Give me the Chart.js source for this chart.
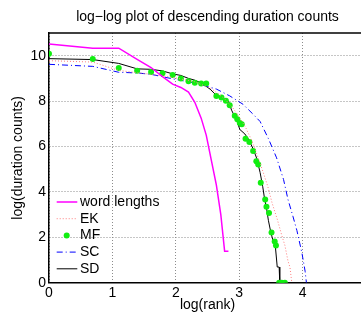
<!DOCTYPE html>
<html>
<head>
<meta charset="utf-8">
<script src="https://cdn.jsdelivr.net/npm/chart.js@4.4.1/dist/chart.umd.min.js"></script>
<style>
  html, body { margin: 0; padding: 0; overflow: hidden; background: #fff; }
  #wrap { width: 361px; height: 314px; overflow: hidden; }
  canvas { display: block; }
</style>
</head>
<body>
<div id="wrap"><canvas id="chart" width="370" height="314"></canvas></div>
<script>
// values (natural log of rank / count)
const titleText = 'log\u2212log plot of descending duration counts';
const xTicks = [0, 1, 2, 3, 4, 5];
const yTicks = [0, 2, 4, 6, 8, 10];

const seriesNames = ['word lengths', 'EK', 'MF', 'SC', 'SD'];

const wordX = [0, 0.69, 1.10, 1.39, 1.61, 1.79, 1.95, 2.08, 2.20, 2.30, 2.40, 2.48, 2.56, 2.64, 2.71, 2.77, 2.83];
const wordY = [10.52, 10.33, 10.33, 9.84, 9.48, 9.08, 8.75, 8.6, 8.4, 7.95, 7.25, 6.5, 5.4, 4.3, 3.0, 1.39, 1.39];

const ekX = [0, 0.69, 1.10, 1.39, 1.61, 1.95, 2.30, 2.56, 2.77, 2.90, 3.00, 3.10, 3.20, 3.30, 3.38, 3.45, 3.52, 3.60, 3.67, 3.72, 3.77, 3.80, 3.83];
const ekY = [9.78, 9.72, 9.35, 9.25, 9.18, 9.05, 8.85, 8.55, 8.1, 7.7, 7.3, 6.85, 6.25, 5.5, 4.85, 4.25, 3.5, 2.8, 2.1, 1.65, 0.95, 0.69, 0];

const mfX = [0, 0.69, 1.10, 1.39, 1.61, 1.79, 1.95, 2.08, 2.20, 2.30, 2.40, 2.48, 2.64, 2.72, 2.79, 2.85, 2.93, 2.97, 3.01, 3.04, 3.10, 3.16, 3.22, 3.27, 3.30, 3.34, 3.41, 3.43, 3.47, 3.51, 3.56, 3.58, 3.63, 3.67, 3.72];
const mfY = [10.09, 9.85, 9.46, 9.34, 9.28, 9.23, 9.15, 9.0, 8.87, 8.81, 8.78, 8.78, 8.23, 8.16, 8.01, 7.82, 7.35, 7.2, 7.03, 6.98, 6.34, 6.2, 5.8, 5.35, 5.21, 4.4, 3.66, 3.35, 3.07, 2.21, 1.81, 1.64, 0, 0, 0];

const scX = [0, 0.69, 1.10, 1.39, 1.61, 1.95, 2.30, 2.64, 2.85, 3.06, 3.22, 3.33, 3.46, 3.59, 3.70, 3.77, 3.85, 3.91, 3.99, 4.04, 4.06];
const scY = [9.62, 9.53, 9.27, 9.24, 9.18, 8.98, 8.8, 8.53, 8.23, 7.86, 7.42, 7.1, 6.35, 5.5, 4.54, 3.66, 2.9, 2.3, 1.3, 0.5, 0];

const sdX = [0, 0.69, 1.10, 1.39, 1.61, 1.79, 1.95, 2.08, 2.20, 2.30, 2.40, 2.54, 2.64, 2.75, 2.83, 2.88, 2.96, 3.01, 3.09, 3.14, 3.22, 3.28, 3.33, 3.37, 3.40, 3.43, 3.46, 3.50, 3.54, 3.57, 3.60, 3.63, 3.64, 3.70];
const sdY = [9.87, 9.83, 9.66, 9.42, 9.40, 9.33, 9.2, 9.13, 9.0, 8.92, 8.8, 8.53, 8.25, 8.1, 8.0, 7.6, 7.15, 6.75, 6.55, 6.35, 5.9, 5.45, 4.85, 4.25, 3.7, 3.3, 2.75, 2.2, 1.79, 1.61, 0.69, 0.69, 0, 0];

const FONT = '"Liberation Sans", Arial, Helvetica, sans-serif';

function pts(xs, ys) {
  return xs.map((x, i) => ({ x: x, y: ys[i] }));
}

// title + top frame line
const framePlugin = {
  id: 'frame',
  afterDraw(chart) {
    const ctx = chart.ctx;
    const a = chart.chartArea;
    ctx.save();
    ctx.strokeStyle = '#000';
    ctx.lineWidth = 1.5;
    ctx.beginPath();
    ctx.moveTo(a.left, a.top);
    ctx.lineTo(a.right, a.top);
    ctx.stroke();
    ctx.fillStyle = '#000';
    ctx.font = '14px ' + FONT;
    ctx.textAlign = 'center';
    ctx.textBaseline = 'alphabetic';
    ctx.fillText(titleText, (a.left + a.right) / 2, 21);
    ctx.restore();
  }
};

// legend drawn inside the plot, lower left, no box
const legendPlugin = {
  id: 'innerLegend',
  afterDraw(chart) {
    const ctx = chart.ctx;
    ctx.save();
    ctx.font = '14px ' + FONT;
    ctx.textBaseline = 'middle';
    ctx.textAlign = 'left';
    chart.data.datasets.forEach((ds, i) => {
      const y = 202 + i * 16.7;
      if (ds.showLine === false) {
        ctx.fillStyle = ds.backgroundColor;
        ctx.beginPath();
        ctx.arc(66.7, y, ds.pointRadius, 0, Math.PI * 2);
        ctx.fill();
      } else {
        ctx.strokeStyle = ds.borderColor;
        ctx.lineWidth = ds.borderWidth;
        ctx.setLineDash(ds.borderDash || []);
        ctx.beginPath();
        ctx.moveTo(56.7, y);
        ctx.lineTo(77.3, y);
        ctx.stroke();
        ctx.setLineDash([]);
      }
      ctx.fillStyle = '#000';
      ctx.fillText(ds.label, 80, y);
    });
    ctx.restore();
  }
};

let chart = new Chart(document.getElementById('chart').getContext('2d'), {
  type: 'scatter',
  data: {
    datasets: [
      { label: seriesNames[0], data: pts(wordX, wordY), showLine: true, borderColor: '#ff00ff', backgroundColor: '#ff00ff', borderWidth: 1.5, pointRadius: 0 },
      { label: seriesNames[1], data: pts(ekX, ekY), showLine: true, borderColor: '#ff7f7f', backgroundColor: '#ff7f7f', borderWidth: 1, borderDash: [1, 2], pointRadius: 0 },
      { label: seriesNames[2], data: pts(mfX, mfY), showLine: false, borderColor: '#11ee11', backgroundColor: '#11ee11', borderWidth: 0, pointRadius: 3, pointBorderWidth: 0 },
      { label: seriesNames[3], data: pts(scX, scY), showLine: true, borderColor: '#0000ff', backgroundColor: '#0000ff', borderWidth: 1, borderDash: [6, 3, 1, 3], pointRadius: 0 },
      { label: seriesNames[4], data: pts(sdX, sdY), showLine: true, borderColor: '#000000', backgroundColor: '#000000', borderWidth: 1, pointRadius: 0 }
    ]
  },
  options: {
    responsive: false,
    animation: false,
    devicePixelRatio: 1,
    layout: { padding: { left: 0, right: 4, top: 33, bottom: 0 } },
    plugins: {
      legend: { display: false },
      tooltip: { enabled: false },
      title: { display: false }
    },
    scales: {
      x: {
        type: 'linear',
        min: 0,
        max: 5,
        afterBuildTicks: (s) => { s.ticks = xTicks.map(v => ({ value: v })); },
        afterFit: (s) => { s.height = 31.3; s.paddingLeft = 0; s.paddingRight = 0; },
        grid: { color: '#8c8c8c', lineWidth: 1, drawTicks: false },
        border: { color: '#000', width: 1.5, dash: [1, 2] },
        ticks: { color: '#000', font: { size: 14, family: FONT }, padding: 2, maxRotation: 0 },
        title: { display: true, text: 'log(rank)', color: '#000', font: { size: 14, family: FONT }, padding: { top: 0, bottom: 0 } }
      },
      y: {
        type: 'linear',
        min: 0,
        max: 11,
        afterBuildTicks: (s) => { s.ticks = yTicks.map(v => ({ value: v })); },
        afterFit: (s) => { s.width = 49; s.paddingTop = 0; s.paddingBottom = 0; },
        grid: { color: '#8c8c8c', lineWidth: 1, drawTicks: false },
        border: { color: '#000', width: 1.5, dash: [1, 2] },
        ticks: { color: '#000', font: { size: 14, family: FONT }, padding: 3 },
        title: { display: true, text: 'log(duration counts)', color: '#000', font: { size: 14, family: FONT }, padding: { top: 10, bottom: 0 } }
      }
    }
  },
  plugins: [framePlugin, legendPlugin]
});
</script>
</body>
</html>
